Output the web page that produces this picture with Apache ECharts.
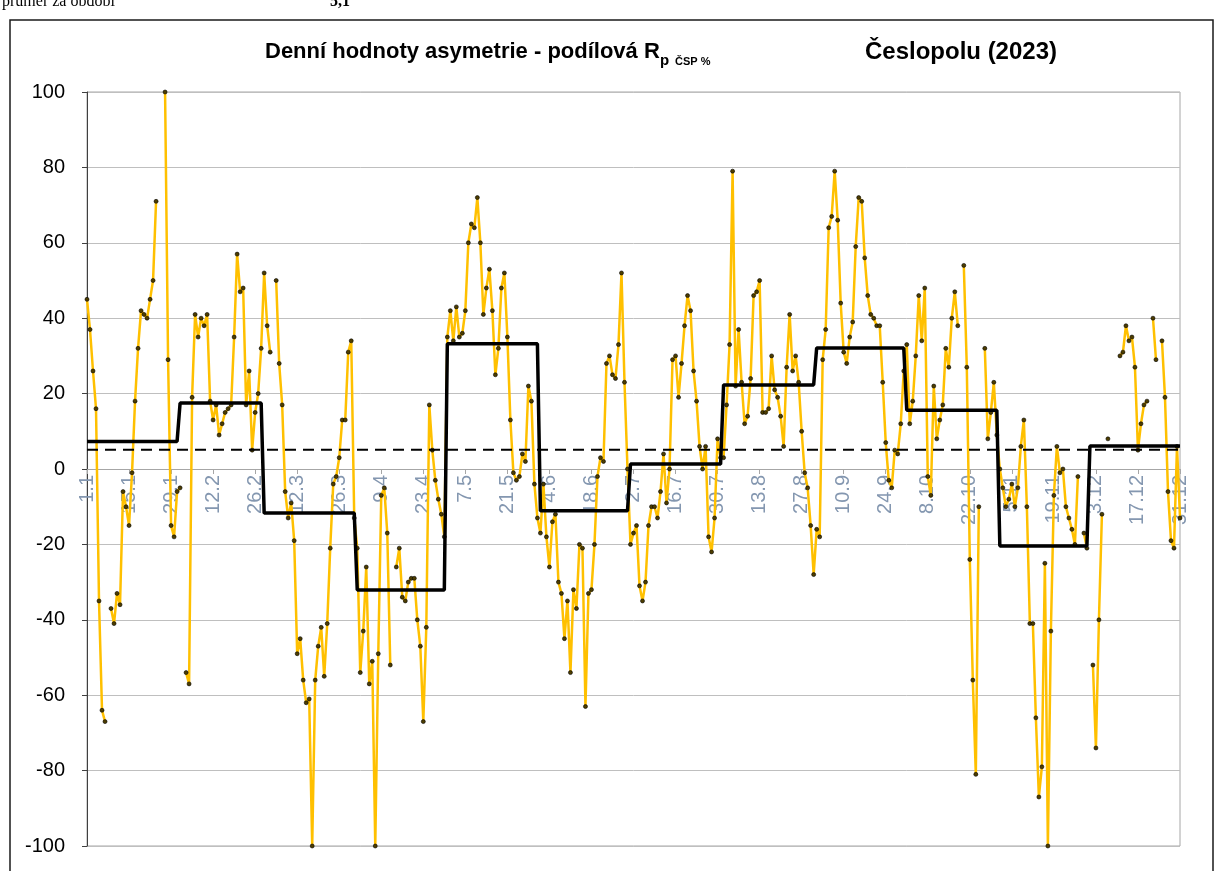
<!DOCTYPE html>
<html>
<head>
<meta charset="utf-8">
<script src="https://cdn.jsdelivr.net/npm/echarts@6/dist/echarts.min.js"></script>
<style>
  html, body { margin: 0; padding: 0; background: #fff; }
  #main { width: 1215px; height: 871px; }
</style>
</head>
<body>
<div id="main"></div>
<script>
// denni hodnoty po mesicich (null = chybi hodnota)
const jan = [45, 37, 26, 16, -35, -64, -67, null, -37, -41, -33, -36, -6, -10, -15, -1, 18, 32, 42, 41, 40, 45, 50, 71, null, null, 100, 29, -15, -18, -6];
const feb = [-5, null, -54, -57, 19, 41, 35, 40, 38, 41, 18, 13, 17, 9, 12, 15, 16, 17, 35, 57, 47, 48, 17, 26, 5, 15, 20, 32];
const mar = [52, 38, 31, null, 50, 28, 17, -6, -13, -9, -19, -49, -45, -56, -62, -61, -100, -56, -47, -42, -55, -41, -21, -4, -2, 3, 13, 13, 31, 34, -13];
const apr = [-21, -54, -43, -26, -57, -51, -100, -49, -7, -5, -17, -52, null, -26, -21, -34, -35, -30, -29, -29, -40, -47, -67, -42, 17, 5, -3, -8, -12, -18];
const may = [35, 42, 34, 43, 35, 36, 42, 60, 65, 64, 72, 60, 41, 48, 53, 42, 25, 32, 48, 52, 35, 13, -1, -3, -2, 4, 2, 22, 18, -4, -13];
const jun = [-17, -4, -18, -26, -14, -12, -30, -33, -45, -35, -54, -32, -37, -20, -21, -63, -33, -32, -20, -2, 3, 2, 28, 30, 25, 24, 33, 52, 23, 0];
const jul = [-20, -17, -15, -31, -35, -30, -15, -10, -10, -13, -6, 4, -9, 0, 29, 30, 19, 28, 38, 46, 42, 26, 18, 6, 0, 6, -18, -22, -13, 8, 3];
const aug = [3, 17, 33, 79, 22, 37, 23, 12, 14, 24, 46, 47, 50, 15, 15, 16, 30, 21, 19, 14, 6, 27, 41, 26, 30, 23, 10, -1, -5, -15, -28];
const sep = [-16, -18, 29, 37, 64, 67, 79, 66, 44, 31, 28, 35, 39, 59, 72, 71, 56, 46, 41, 40, 38, 38, 23, 7, -3, -5, 5, 4, 12, 26];
const oct = [33, 12, 18, 30, 46, 34, 48, -2, -7, 22, 8, 13, 17, 32, 27, 40, 47, 38, null, 54, 27, -24, -56, -81, -10, null, 32, 8, 15, 23, 9];
const nov = [0, -5, -10, -8, -4, -10, -5, 6, 13, -10, -41, -41, -66, -87, -79, -25, -100, -43, -7, 6, -1, 0, -10, -13, -16, -20, -2, null, -17, -21];
const dec = [null, -52, -74, -40, -12, null, 8, null, null, null, 30, 31, 38, 34, 35, 27, 5, 12, 17, 18, null, 40, 29, null, 34, 19, -6, -19, -21, 6, -13];

// mesicni prumery a prumer za obdobi
const monthlyAvg = [7.3, 17.5, -11.7, -32.1, 33.2, -11.1, 1.3, 22.3, 32.1, 15.6, -20.4, 6.1];
const periodAvg = 5.1;

const months = [jan, feb, mar, apr, may, jun, jul, aug, sep, oct, nov, dec];

var labels = [];
var daily = [];
var avgLine = [];
var periodLine = [];
months.forEach(function(m, mi) {
  m.forEach(function(v, di) {
    labels.push((di + 1) + '.' + (mi + 1));
    daily.push(v);
    avgLine.push(monthlyAvg[mi]);
    periodLine.push(periodAvg);
  });
});

var chart = echarts.init(document.getElementById('main'));
var font = 'Liberation Sans, Arial, sans-serif';

// osa x lezi na nule: posun od spodni hrany o polovinu vysky grafu
var gridTop = 92, gridBottom = 25;
var plotH = 871 - gridTop - gridBottom;

chart.setOption({
  animation: false,
  backgroundColor: '#fff',
  graphic: [
    { type: 'text', left: 2, top: -6, style: { text: 'průměr za období', font: '16px Liberation Serif', fill: '#000' } },
    { type: 'text', left: 330, top: -6, style: { text: '5,1', font: 'bold 16px Liberation Serif', fill: '#000' } },
    { type: 'rect', shape: { x: 10, y: 20, width: 1203, height: 880 }, style: { fill: 'none', stroke: '#1a1a1a', lineWidth: 1.5 } },
    { type: 'text', x: 265, y: 52, style: { text: 'Denní hodnoty asymetrie - podílová R', font: 'bold 22px ' + font, fill: '#000', verticalAlign: 'middle' } },
    { type: 'text', x: 660, y: 61, style: { text: 'p', font: 'bold 15px ' + font, fill: '#000', verticalAlign: 'middle' } },
    { type: 'text', x: 675, y: 62, style: { text: 'ČSP %', font: 'bold 11px ' + font, fill: '#000', verticalAlign: 'middle' } },
    { type: 'text', x: 1057, y: 52, style: { text: 'Česlopolu (2023)', font: 'bold 24px ' + font, fill: '#000', align: 'right', verticalAlign: 'middle' } }
  ],
  grid: { left: 87, right: 35, top: gridTop, bottom: gridBottom, outerBoundsMode: 'none', containLabel: false, show: true, borderColor: '#a6a6a6', borderWidth: 1 },
  xAxis: {
    type: 'category',
    data: labels,
    boundaryGap: false,
    offset: -plotH / 2,
    axisLine: { onZero: false, lineStyle: { color: '#a6a6a6', width: 1 } },
    axisTick: { interval: 13, length: 5, lineStyle: { color: '#a6a6a6' } },
    axisLabel: { interval: 13, rotate: 90, margin: 6, color: '#8497b0', fontSize: 20, fontFamily: font },
    splitLine: { show: false }
  },
  yAxis: {
    type: 'value',
    min: -100,
    max: 100,
    interval: 20,
    axisLine: { show: true, lineStyle: { color: '#404040', width: 1 } },
    axisTick: { show: true, length: 5, lineStyle: { color: '#404040' } },
    axisLabel: { color: '#000', fontSize: 20, fontFamily: font, margin: 22 },
    splitLine: { lineStyle: { color: '#bfbfbf', width: 1 } }
  },
  series: [
    {
      name: 'denní',
      type: 'line',
      data: daily,
      z: 2,
      showAllSymbol: true,
      symbol: 'circle',
      symbolSize: 4,
      lineStyle: { color: '#FFC000', width: 2.5 },
      itemStyle: { color: '#4d3d00', borderColor: '#000', borderWidth: 0.6 }
    },
    {
      name: 'průměr za měsíc',
      type: 'line',
      data: avgLine,
      z: 4,
      symbol: 'none',
      lineStyle: { color: '#000', width: 3.5 }
    },
    {
      name: 'průměr za období',
      type: 'line',
      data: periodLine,
      z: 3,
      symbol: 'none',
      lineStyle: { color: '#000', width: 2, type: [11, 7] }
    }
  ]
});
</script>
</body>
</html>
